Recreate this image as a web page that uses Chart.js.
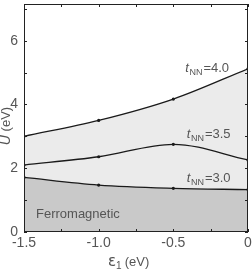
<!DOCTYPE html>
<html>
<head>
<meta charset="UTF-8">
<title>U vs eps1</title>
<script src="https://cdn.jsdelivr.net/npm/chart.js@4"></script>
<style>
html,body{margin:0;padding:0;background:#fff}
#wrap{width:252px;height:273px;position:relative}
</style>
</head>
<body>
<div id="wrap"><canvas id="c" width="252" height="273"></canvas></div>
<script>
const EPS=[-1.5,-1.0,-0.5,0];
const U_T30=[1.71,1.47,1.37,1.33];
const U_T35=[2.10,2.36,2.75,2.26];
const U_T40=[3.00,3.50,4.17,5.12];
const X_TICKS=[-1.5,-1.0,-0.5,0];
const Y_TICKS=[0,2,4,6];
const LABELS=[
  {t:"3.0",x:-0.41,y:1.67},
  {t:"3.5",x:-0.41,y:3.06},
  {t:"4.0",x:-0.42,y:5.12}
];

const TXT="#555", LINE="#1a1a1a", FONT="Liberation Sans, Arial, sans-serif";
const NARROW="Liberation Sans Narrow, Arial Narrow, Liberation Sans, sans-serif";

const pts=a=>EPS.map((x,i)=>({x,y:a[i]}));

// frame, inside ticks, titles and curve labels
const deco={
  id:"deco",
  afterDatasetsDraw(ch){
    const c=ch.ctx, a=ch.chartArea, xs=ch.scales.x, ys=ch.scales.y;
    c.save();
    c.strokeStyle="#222";c.lineWidth=1;
    c.strokeRect(a.left+0.5,a.top+0.5,a.right-a.left-1,a.bottom-a.top-1);
    c.beginPath();
    for(let v=-1.5;v<=0.001;v+=0.25){
      const px=Math.round(xs.getPixelForValue(v))+0.5;
      c.moveTo(px,a.bottom);c.lineTo(px,a.bottom-3);
      c.moveTo(px,a.top);c.lineTo(px,a.top+3);
    }
    for(let v=0;v<=7;v++){
      const py=Math.round(ys.getPixelForValue(v))+0.5;
      c.moveTo(a.left,py);c.lineTo(a.left+3,py);
      c.moveTo(a.right,py);c.lineTo(a.right-3,py);
    }
    c.stroke();

    c.fillStyle=TXT;c.textBaseline="middle";
    // curve labels: t_NN=...
    LABELS.forEach(l=>{
      let x=xs.getPixelForValue(l.x), y=ys.getPixelForValue(l.y);
      c.textAlign="left";
      c.font="italic 13px "+FONT;c.fillText("t",x,y);x+=c.measureText("t").width+0.5;
      c.font="9px "+FONT;c.fillText("NN",x,y+4);x+=c.measureText("NN").width+1;
      c.font="13px "+FONT;c.fillText("="+l.t,x,y);
    });
    c.font="13px "+FONT;c.textAlign="left";
    c.fillText("Ferromagnetic",a.left+12,ys.getPixelForValue(0.56));

    // x title
    let tx=108, ty=262;
    c.font="15px DejaVu Sans, sans-serif";c.fillText("\u03b5",tx,ty);tx+=c.measureText("\u03b5").width;
    c.font="10px "+FONT;c.fillText("1",tx,ty+4);tx+=c.measureText("1").width+3;
    c.font="13px "+FONT;c.fillText("(eV)",tx,ty);

    // y title
    c.save();c.translate(6,126);c.rotate(-Math.PI/2);
    c.textAlign="left";
    c.font="italic 14px "+FONT;const w1=c.measureText("U").width;
    c.font="13px "+FONT;const w2=c.measureText(" (eV)").width;
    let sx=-(w1+w2)/2;
    c.font="italic 14px "+FONT;c.fillText("U",sx,0);
    c.font="13px "+FONT;c.fillText(" (eV)",sx+w1,0);
    c.restore();
    c.restore();
  }
};

const ds=(data,extra)=>Object.assign({
  data,borderColor:LINE,borderWidth:1.3,cubicInterpolationMode:"monotone",
  pointRadius:1.6,pointBackgroundColor:LINE,pointBorderWidth:0
},extra);

new Chart(document.getElementById("c"),{
  type:"line",
  data:{datasets:[
    ds(pts(U_T30),{fill:"origin",backgroundColor:"#c9c9c9"}),
    ds(pts(U_T35),{fill:false}),
    ds(pts(U_T40),{fill:0,backgroundColor:"#ebebeb"})
  ]},
  options:{
    responsive:false,animation:false,
    layout:{padding:{top:1,right:4,left:0,bottom:0}},
    plugins:{legend:{display:false},tooltip:{enabled:false}},
    scales:{
      x:{type:"linear",min:-1.5,max:0,
        afterBuildTicks:s=>{s.ticks=X_TICKS.map(v=>({value:v}));},
        afterFit:s=>{s.height=41;s.paddingLeft=0;s.paddingRight=0;},
        grid:{display:false,drawTicks:false},border:{display:false},
        ticks:{color:TXT,font:{size:14,family:NARROW},padding:3,maxRotation:0,
          callback:v=>v===0?"0":v.toFixed(1)}},
      y:{min:0,max:7.15,
        afterBuildTicks:s=>{s.ticks=Y_TICKS.map(v=>({value:v}));},
        afterFit:s=>{s.width=24;s.paddingTop=0;s.paddingBottom=0;},
        grid:{display:false,drawTicks:false},border:{display:false},
        ticks:{color:TXT,font:{size:14,family:NARROW},padding:6,
          callback:v=>String(v)}}
    }
  },
  plugins:[deco]
});
</script>
</body>
</html>
